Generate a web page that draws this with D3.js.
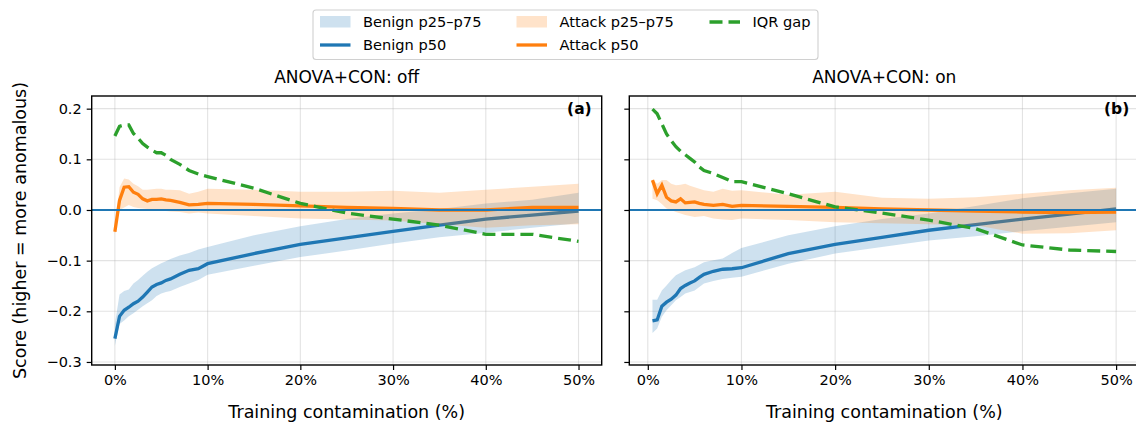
<!DOCTYPE html>
<html>
<head>
<meta charset="utf-8">
<script src="https://cdn.jsdelivr.net/npm/d3@7"></script>
<style>
  body { margin: 0; background: #fff; }
  text { font-family: "DejaVu Sans", sans-serif; fill: #000; }
</style>
</head>
<body>
<div id="plot"></div>
<script>
var width = 1136;
var height = 426;

// contamination levels (%)
var xsA = [0, 0.5, 1, 1.5, 2, 2.5, 3, 3.5, 4, 4.5, 5, 5.5, 6, 7, 8, 9, 10, 15, 20, 25, 30, 35, 40, 45, 50];
var xsB = [0.5, 1, 1.5, 2, 2.5, 3, 3.5, 4, 4.5, 5, 5.5, 6, 7, 8, 9, 10, 15, 20, 25, 30, 35, 40, 45, 50];

// panel (a): ANOVA+CON off
var benignP25A = [-0.268, -0.225, -0.218, -0.210, -0.204, -0.197, -0.190, -0.184, -0.178, -0.170, -0.165, -0.162, -0.160, -0.152, -0.145, -0.138, -0.128, -0.110, -0.093, -0.080, -0.066, -0.054, -0.045, -0.035, -0.026];
var benignP50A = [-0.254, -0.210, -0.198, -0.192, -0.185, -0.180, -0.172, -0.162, -0.152, -0.147, -0.144, -0.139, -0.136, -0.127, -0.119, -0.116, -0.106, -0.086, -0.068, -0.055, -0.042, -0.030, -0.018, -0.010, -0.002];
var benignP75A = [-0.225, -0.167, -0.160, -0.157, -0.145, -0.138, -0.130, -0.122, -0.115, -0.110, -0.105, -0.101, -0.097, -0.090, -0.085, -0.078, -0.073, -0.050, -0.032, -0.018, -0.007, 0.002, 0.013, 0.020, 0.034];
var attackP25A = [-0.048, 0.000, 0.005, 0.010, 0.006, 0.004, 0.003, 0.002, 0.000, 0.000, -0.001, -0.002, -0.003, -0.004, -0.007, -0.005, -0.007, -0.012, -0.017, -0.019, -0.021, -0.028, -0.035, -0.030, -0.028];
var attackP50A = [-0.043, 0.019, 0.045, 0.046, 0.035, 0.031, 0.022, 0.018, 0.021, 0.021, 0.022, 0.020, 0.019, 0.015, 0.010, 0.011, 0.013, 0.011, 0.008, 0.005, 0.003, 0.000, 0.000, 0.005, 0.005];
var attackP75A = [-0.038, 0.045, 0.062, 0.060, 0.052, 0.047, 0.040, 0.040, 0.041, 0.042, 0.042, 0.040, 0.040, 0.039, 0.032, 0.036, 0.042, 0.040, 0.036, 0.036, 0.038, 0.034, 0.040, 0.046, 0.052];
var gapA = [0.146, 0.165, 0.168, 0.168, 0.151, 0.142, 0.131, 0.124, 0.118, 0.113, 0.113, 0.108, 0.100, 0.090, 0.078, 0.071, 0.066, 0.043, 0.013, -0.006, -0.018, -0.030, -0.048, -0.048, -0.062];

// panel (b): ANOVA+CON on
var benignP25B = [-0.243, -0.234, -0.211, -0.198, -0.188, -0.178, -0.172, -0.165, -0.162, -0.159, -0.152, -0.145, -0.140, -0.136, -0.134, -0.132, -0.106, -0.086, -0.073, -0.060, -0.052, -0.042, -0.033, -0.024];
var benignP50B = [-0.219, -0.217, -0.190, -0.182, -0.176, -0.168, -0.155, -0.149, -0.144, -0.140, -0.133, -0.127, -0.121, -0.117, -0.116, -0.114, -0.086, -0.068, -0.054, -0.040, -0.029, -0.018, -0.008, 0.002];
var benignP75B = [-0.177, -0.177, -0.159, -0.149, -0.138, -0.129, -0.124, -0.119, -0.116, -0.113, -0.108, -0.103, -0.099, -0.096, -0.085, -0.075, -0.050, -0.032, -0.018, -0.007, 0.008, 0.023, 0.033, 0.042];
var attackP25B = [0.022, 0.019, 0.012, 0.003, 0.000, -0.004, -0.007, -0.010, -0.012, -0.014, -0.013, -0.012, -0.017, -0.019, -0.020, -0.017, -0.020, -0.024, -0.026, -0.028, -0.030, -0.047, -0.046, -0.040];
var attackP50B = [0.059, 0.032, 0.049, 0.025, 0.018, 0.016, 0.022, 0.014, 0.015, 0.016, 0.013, 0.011, 0.009, 0.011, 0.007, 0.009, 0.007, 0.005, 0.002, 0.000, -0.002, -0.004, -0.005, -0.004];
var attackP75B = [0.060, 0.052, 0.059, 0.059, 0.052, 0.049, 0.050, 0.052, 0.048, 0.045, 0.042, 0.039, 0.036, 0.042, 0.038, 0.039, 0.030, 0.036, 0.024, 0.022, 0.025, 0.032, 0.039, 0.044];
var gapB = [0.199, 0.190, 0.170, 0.150, 0.137, 0.125, 0.116, 0.109, 0.102, 0.095, 0.085, 0.078, 0.072, 0.064, 0.056, 0.056, 0.032, 0.006, -0.006, -0.020, -0.037, -0.069, -0.079, -0.082];

var xTicks = [0, 10, 20, 30, 40, 50];
var yTicks = [0.2, 0.1, 0.0, -0.1, -0.2, -0.3];

var blue = '#1f77b4';
var orange = '#ff7f0e';
var green = '#2ca02c';
var bandAlpha = 0.22;
var lw = 3.3;
var dash = '13,6';

var top_y = 96;
var bottom_y = 365;
var panel_w = 510;

var canvas = d3.select('#plot')
    .append('svg')
    .attr('width', width)
    .attr('height', height);

var y_scale = d3.scaleLinear()
    .domain([-0.306, 0.225])
    .range([bottom_y, top_y]);

function drawPanel(left, xs, b25, b50, b75, a25, a50, a75, gap, xDomain, title, tag, yLabels, id) {
    var x_scale = d3.scaleLinear()
        .domain(xDomain)
        .range([left, left + panel_w]);

    var g = canvas.append('g');

    canvas.append('clipPath')
        .attr('id', 'clip-' + id)
        .append('rect')
        .attr('x', left).attr('y', top_y)
        .attr('width', panel_w).attr('height', bottom_y - top_y);

    // grid
    g.selectAll('line.vgrid')
        .data(xTicks)
        .enter()
        .append('line')
        .attr('x1', function(d) { return x_scale(d); })
        .attr('x2', function(d) { return x_scale(d); })
        .attr('y1', top_y).attr('y2', bottom_y)
        .attr('stroke', '#b0b0b0').attr('stroke-opacity', 0.35).attr('stroke-width', 1.1);
    g.selectAll('line.hgrid')
        .data(yTicks)
        .enter()
        .append('line')
        .attr('x1', left).attr('x2', left + panel_w)
        .attr('y1', function(d) { return y_scale(d); })
        .attr('y2', function(d) { return y_scale(d); })
        .attr('stroke', '#b0b0b0').attr('stroke-opacity', 0.35).attr('stroke-width', 1.1);

    var plot = g.append('g').attr('clip-path', 'url(#clip-' + id + ')');

    var area = function(lo, hi) {
        return d3.area()
            .x(function(d, i) { return x_scale(xs[i]); })
            .y0(function(d, i) { return y_scale(lo[i]); })
            .y1(function(d, i) { return y_scale(hi[i]); })(xs);
    };
    var line = function(vals) {
        return d3.line()
            .x(function(d, i) { return x_scale(xs[i]); })
            .y(function(d, i) { return y_scale(vals[i]); })(xs);
    };

    plot.append('path').attr('d', area(b25, b75))
        .attr('fill', blue).attr('fill-opacity', bandAlpha);
    plot.append('path').attr('d', line(b50))
        .attr('fill', 'none').attr('stroke', blue).attr('stroke-width', lw);
    plot.append('path').attr('d', area(a25, a75))
        .attr('fill', orange).attr('fill-opacity', bandAlpha);
    plot.append('path').attr('d', line(a50))
        .attr('fill', 'none').attr('stroke', orange).attr('stroke-width', lw);
    plot.append('path').attr('d', line(gap))
        .attr('fill', 'none').attr('stroke', green).attr('stroke-width', lw)
        .attr('stroke-dasharray', dash);

    // zero line
    plot.append('line')
        .attr('x1', left).attr('x2', left + panel_w)
        .attr('y1', y_scale(0)).attr('y2', y_scale(0))
        .attr('stroke', blue).attr('stroke-width', 1.9);

    // axes
    var x_axis = d3.axisBottom(x_scale)
        .tickValues(xTicks)
        .tickSize(5)
        .tickPadding(5)
        .tickFormat(function(d) { return d + '%'; });
    var xg = g.append('g')
        .attr('transform', 'translate(0,' + bottom_y + ')')
        .call(x_axis);
    xg.select('.domain').remove();
    xg.selectAll('line').attr('stroke', '#000').attr('stroke-width', 1.2);
    xg.selectAll('text').attr('font-size', 14.5).attr('font-family', 'DejaVu Sans').attr('fill', '#000');

    var y_axis = d3.axisLeft(y_scale)
        .tickValues(yTicks)
        .tickSize(5)
        .tickPadding(5)
        .tickFormat(yLabels ? d3.format('.1f') : '');
    var yg = g.append('g')
        .attr('transform', 'translate(' + left + ',0)')
        .call(y_axis);
    yg.select('.domain').remove();
    yg.selectAll('line').attr('stroke', '#000').attr('stroke-width', 1.2);
    yg.selectAll('text').attr('font-size', 14.5).attr('font-family', 'DejaVu Sans').attr('fill', '#000');

    // frame
    g.append('rect')
        .attr('x', left).attr('y', top_y)
        .attr('width', panel_w).attr('height', bottom_y - top_y)
        .attr('fill', 'none').attr('stroke', '#000').attr('stroke-width', 1.4);

    g.append('text')
        .attr('x', left + panel_w / 2).attr('y', 83)
        .attr('text-anchor', 'middle')
        .attr('font-size', 17)
        .text(title);

    g.append('text')
        .attr('x', left + panel_w - 10).attr('y', 114)
        .attr('text-anchor', 'end')
        .attr('font-size', 15.5)
        .attr('font-weight', 'bold')
        .text(tag);

    g.append('text')
        .attr('x', left + panel_w / 2).attr('y', 418)
        .attr('text-anchor', 'middle')
        .attr('font-size', 17.5)
        .text('Training contamination (%)');
}

drawPanel(91.7, xsA, benignP25A, benignP50A, benignP75A, attackP25A, attackP50A, attackP75A, gapA,
    [-2.5, 52.5], 'ANOVA+CON: off', '(a)', true, 'a');
drawPanel(629.3, xsB, benignP25B, benignP50B, benignP75B, attackP25B, attackP50B, attackP75B, gapB,
    [-1.975, 52.475], 'ANOVA+CON: on', '(b)', false, 'b');

// y label
canvas.append('text')
    .attr('transform', 'translate(26,' + ((top_y + bottom_y) / 2) + ') rotate(-90)')
    .attr('text-anchor', 'middle')
    .attr('font-size', 17.5)
    .text('Score (higher = more anomalous)');

// legend
var legend = canvas.append('g');
legend.append('rect')
    .attr('x', 313).attr('y', 10)
    .attr('width', 505).attr('height', 49.5)
    .attr('rx', 3)
    .attr('fill', '#fff').attr('fill-opacity', 0.8)
    .attr('stroke', '#d0d0d0').attr('stroke-width', 1.1);

var legendItems = [
    { label: 'Benign p25–p75', kind: 'band', color: blue, col: 0, row: 0 },
    { label: 'Benign p50', kind: 'line', color: blue, col: 0, row: 1 },
    { label: 'Attack p25–p75', kind: 'band', color: orange, col: 1, row: 0 },
    { label: 'Attack p50', kind: 'line', color: orange, col: 1, row: 1 },
    { label: 'IQR gap', kind: 'dash', color: green, col: 2, row: 0 }
];
var colX = [320, 516.5, 709.5];
var rowY = [22, 45];

legendItems.forEach(function(d) {
    var x0 = colX[d.col];
    var yc = rowY[d.row];
    if (d.kind === 'band') {
        legend.append('rect')
            .attr('x', x0).attr('y', yc - 6)
            .attr('width', 30.5).attr('height', 11.5)
            .attr('fill', d.color).attr('fill-opacity', bandAlpha);
    } else {
        legend.append('line')
            .attr('x1', x0).attr('x2', x0 + 30.5)
            .attr('y1', yc).attr('y2', yc)
            .attr('stroke', d.color).attr('stroke-width', lw)
            .attr('stroke-dasharray', d.kind === 'dash' ? dash : null);
    }
    legend.append('text')
        .attr('x', x0 + 43).attr('y', yc + 5.2)
        .attr('font-size', 14.6)
        .text(d.label);
});
</script>
</body>
</html>
